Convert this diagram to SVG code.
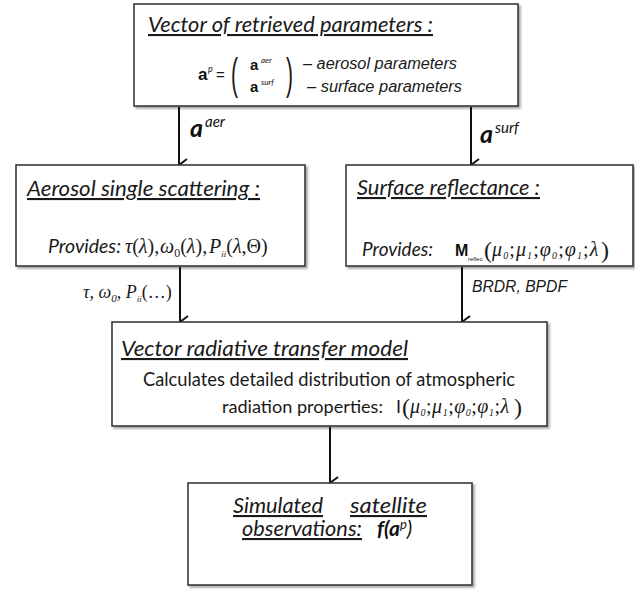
<svg xmlns="http://www.w3.org/2000/svg" width="635" height="589" viewBox="0 0 635 589">
<style>
.box{fill:#fff;stroke:#3a3a3a;stroke-width:1.6;filter:url(#sh)}
.hd{font-family:Lato,"Liberation Sans",sans-serif;font-style:italic;text-decoration:underline;fill:#1a1a1a}
.tx{font-family:Lato,"Liberation Sans",sans-serif;fill:#1a1a1a}
.it{font-family:Lato,"Liberation Sans",sans-serif;font-style:italic;fill:#1a1a1a}
.ar{font-family:"Liberation Sans",Arial,sans-serif;font-style:italic;fill:#1a1a1a}
.m{font-family:"Liberation Serif","Times New Roman",serif;font-style:italic;fill:#1a1a1a}
.mu{font-family:"Liberation Serif","Times New Roman",serif;font-style:normal;fill:#1a1a1a}
.pa{font-family:"Liberation Sans",Arial,sans-serif;font-style:normal;fill:#1a1a1a}
.vb{font-family:Lato,"Liberation Sans",sans-serif;font-style:italic;font-weight:bold;fill:#111}
.sup{font-family:Lato,"Liberation Sans",sans-serif;font-style:italic;fill:#111}
.vs{font-family:"Liberation Sans",Arial,sans-serif;font-weight:bold;fill:#111}
.ls{letter-spacing:1.1px}
.ls2{letter-spacing:0.5px}
.con{stroke:#111;stroke-width:2;fill:none;marker-end:url(#ah)}
</style>
<defs>
<filter id="sh" x="-5%" y="-5%" width="115%" height="120%">
<feDropShadow dx="2" dy="2" stdDeviation="1.2" flood-color="#000" flood-opacity="0.35"/>
</filter>
<marker id="ah" viewBox="0 0 14 14" refX="7" refY="13" markerWidth="14" markerHeight="14" markerUnits="userSpaceOnUse" orient="auto">
<path d="M1,5 L7,13 L13,5" fill="none" stroke="#111" stroke-width="2"/>
</marker>
</defs>
<rect width="635" height="589" fill="#fff"/>

<g id="connectors">
<line class="con" x1="179" y1="107" x2="179" y2="165"/>
<line class="con" x1="471" y1="107" x2="471" y2="165"/>
<line class="con" x1="180" y1="267" x2="180" y2="322"/>
<line class="con" x1="462" y1="267" x2="462" y2="322"/>
<line class="con" x1="330" y1="427" x2="330" y2="483"/>
<text class="vb" x="190" y="137" style="font-size:25px">a</text>
<text class="sup" x="205" y="127" style="font-size:15px">aer</text>
<text class="vb" x="480" y="143" style="font-size:25px">a</text>
<text class="sup" x="495" y="133" style="font-size:15px">surf</text>
<text class="m" x="83" y="298" style="font-size:18px">τ, ω<tspan dy="4" style="font-size:11px">0</tspan><tspan dy="-4">, P</tspan><tspan dy="4" style="font-size:9px">ii</tspan><tspan class="mu" dy="-4">(…)</tspan></text>
<text class="ar" x="472" y="292" style="font-size:17px" textLength="95" lengthAdjust="spacingAndGlyphs">BRDR, BPDF</text>
</g>

<g id="top">
<rect class="box" x="134" y="4" width="384" height="102"/>
<text class="hd" x="148" y="32" style="font-size:21px" textLength="285" lengthAdjust="spacingAndGlyphs">Vector of retrieved parameters :</text>
<text class="vs" x="198" y="80" style="font-size:17px">a</text>
<text class="sup" x="208" y="72" style="font-size:9px">p</text>
<text class="pa" x="216" y="80" style="font-size:15px">=</text>
<text class="pa" transform="translate(231,89) scale(1,2.1)" style="font-size:21px">(</text>
<text class="vs" x="250" y="70" style="font-size:15px">a</text>
<text class="sup" x="261" y="63" style="font-size:8px">aer</text>
<text class="vs" x="250" y="92" style="font-size:15px">a</text>
<text class="sup" x="261" y="85" style="font-size:8px">surf</text>
<text class="pa" transform="translate(286,89) scale(1,2.1)" style="font-size:21px">)</text>
<text class="ar" x="303" y="69" style="font-size:16px" textLength="154" lengthAdjust="spacingAndGlyphs">– aerosol parameters</text>
<text class="ar" x="307" y="92" style="font-size:16px" textLength="155" lengthAdjust="spacingAndGlyphs">– surface parameters</text>
</g>

<g id="aerosol">
<rect class="box" x="16" y="165" width="289" height="101"/>
<text class="hd" x="27" y="196" style="font-size:21px" textLength="233" lengthAdjust="spacingAndGlyphs">Aerosol single scattering :</text>
<text class="it" x="48" y="253" style="font-size:19px" textLength="73" lengthAdjust="spacingAndGlyphs">Provides:</text>
<text class="m" x="125" y="253" style="font-size:20px">τ<tspan class="mu">(</tspan>λ<tspan class="mu">),</tspan></text>
<text class="m" x="160" y="253" style="font-size:20px">ω<tspan class="mu" dy="4" style="font-size:12px">0</tspan><tspan class="mu" dy="-4">(</tspan>λ<tspan class="mu">),</tspan></text>
<text class="m" x="209" y="253" style="font-size:20px">P<tspan dy="4" style="font-size:9px">ii</tspan><tspan class="mu" dy="-4">(</tspan>λ<tspan class="mu">,Θ)</tspan></text>
</g>

<g id="surface">
<rect class="box" x="346" y="165" width="287" height="101"/>
<text class="hd" x="357" y="195" style="font-size:21px" textLength="183" lengthAdjust="spacingAndGlyphs">Surface reflectance :</text>
<text class="it" x="362" y="256" style="font-size:19px" textLength="71" lengthAdjust="spacingAndGlyphs">Provides:</text>
<text class="m" y="256" style="font-size:20px"><tspan class="vs" x="455" style="font-size:16px;font-style:normal">M</tspan><tspan class="pa" x="468" dy="5" style="font-size:6px">reflec</tspan><tspan class="mu" x="484" dy="-3" style="font-size:24px">(</tspan><tspan class="ls" x="492" dy="-2">μ<tspan dy="3" style="font-size:10px">0</tspan><tspan class="mu" dy="-3">;</tspan>μ<tspan dy="3" style="font-size:10px">1</tspan><tspan class="mu" dy="-3">;</tspan>φ<tspan dy="3" style="font-size:10px">0</tspan><tspan class="mu" dy="-3">;</tspan>φ<tspan dy="3" style="font-size:10px">1</tspan><tspan class="mu" dy="-3">;</tspan>λ</tspan><tspan class="mu" x="601" dy="2" style="font-size:24px">)</tspan></text>
</g>

<g id="vrt">
<rect class="box" x="112" y="322" width="435" height="104"/>
<text class="hd" x="121" y="356" style="font-size:21px" textLength="287" lengthAdjust="spacingAndGlyphs">Vector radiative transfer model</text>
<text class="tx" x="143" y="386" style="font-size:20px" textLength="372" lengthAdjust="spacingAndGlyphs">Calculates detailed distribution of atmospheric</text>
<text class="tx" x="222" y="413" style="font-size:18px" textLength="161" lengthAdjust="spacingAndGlyphs">radiation properties:</text>
<text class="m" y="413" style="font-size:20px"><tspan class="pa" x="396" style="font-size:18px">I</tspan><tspan class="mu" x="402" dy="2" style="font-size:24px">(</tspan><tspan class="ls2" x="410" dy="-2">μ<tspan dy="3" style="font-size:10px">0</tspan><tspan class="mu" dy="-3">;</tspan>μ<tspan dy="3" style="font-size:10px">1</tspan><tspan class="mu" dy="-3">;</tspan>φ<tspan dy="3" style="font-size:10px">0</tspan><tspan class="mu" dy="-3">;</tspan>φ<tspan dy="3" style="font-size:10px">1</tspan><tspan class="mu" dy="-3">;</tspan>λ</tspan><tspan class="mu" x="514" dy="2" style="font-size:24px">)</tspan></text>
</g>

<g id="simulated">
<rect class="box" x="188" y="483" width="284" height="102"/>
<text class="hd" x="233" y="513" style="font-size:21px" textLength="90" lengthAdjust="spacingAndGlyphs">Simulated</text>
<text class="hd" x="350" y="513" style="font-size:21px" textLength="77" lengthAdjust="spacingAndGlyphs">satellite</text>
<text class="hd" x="242" y="536" style="font-size:21px" textLength="120" lengthAdjust="spacingAndGlyphs">observations:</text>
<text class="vb" x="377" y="536" style="font-size:21px">f(a<tspan dy="-7" style="font-size:13px;font-weight:normal">p</tspan><tspan dy="7" style="font-weight:normal">)</tspan></text>
</g>
</svg>
